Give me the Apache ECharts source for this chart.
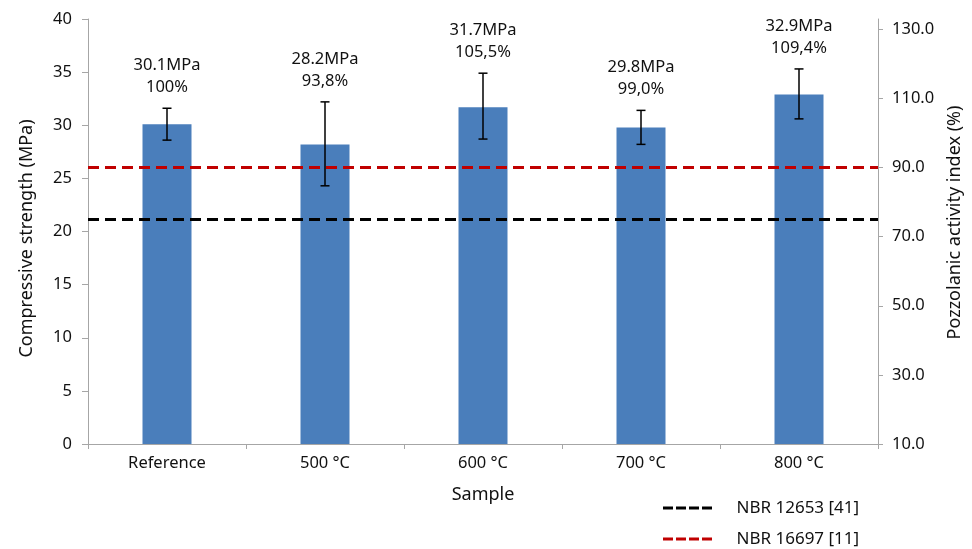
<!DOCTYPE html>
<html>
<head>
<meta charset="utf-8">
<script src="https://cdn.jsdelivr.net/npm/echarts@6/dist/echarts.min.js"></script>
<style>
html,body{margin:0;padding:0;background:#fff;}
#chart{width:972px;height:549px;}
</style>
</head>
<body>
<div id="chart"></div>
<script>
// ---- data ----
const categories = ['Reference', '500 °C', '600 °C', '700 °C', '800 °C'];
const strength = [30.1, 28.2, 31.7, 29.8, 32.9];
const errLow = [28.6, 24.3, 28.7, 28.2, 30.6];
const errHigh = [31.6, 32.2, 34.9, 31.4, 35.3];
const activityIndex = ['100%', '93,8%', '105,5%', '99,0%', '109,4%'];
const refLineNames = ['NBR 12653 [41]', 'NBR 16697 [11]'];
const refLineValues = [75, 90];          // on the pozzolanic activity index axis (%)
const leftMin = 0, leftMax = 40, leftInterval = 5;
const rightTickValues = [10, 30, 50, 70, 90, 110, 130];
const rightMin = 10, rightMax = 133;

const FONT = 'Noto Sans';
const TXT = '#111111';
const AX = '#a6a6a6';
const FS = 16.5;
const FS_NAME = 18;

const chart = echarts.init(document.getElementById('chart'), null, {renderer: 'canvas'});

const dashIcon = 'path://M0,0h10v3h-10z M13,0h10v3h-10z M26,0h10v3h-10z M39,0h10v3h-10z';
const refColors = ['#000000', '#C00000'];

const option = {
  animation: false,
  textStyle: {fontFamily: FONT},
  grid: {left: 88, right: 94, top: 19, bottom: 105},
  legend: {
    orient: 'vertical',
    left: 663,
    top: 498,
    padding: 0,
    itemWidth: 50,
    itemHeight: 3,
    itemGap: 11,
    data: refLineNames.map((n, i) => ({name: n, icon: dashIcon, itemStyle: {color: refColors[i]}})),
    textStyle: {fontFamily: FONT, fontSize: 17, color: TXT, lineHeight: 20, padding: [0, 0, 0, 19]}
  },
  xAxis: {
    type: 'category',
    data: categories,
    name: 'Sample',
    nameLocation: 'middle',
    nameGap: 42,
    nameTextStyle: {fontFamily: FONT, fontSize: FS_NAME, color: TXT},
    axisLine: {lineStyle: {color: AX, width: 1}},
    axisTick: {show: true, length: 5, lineStyle: {color: AX}},
    axisLabel: {fontFamily: FONT, fontSize: FS, color: TXT, margin: 11},
    splitLine: {show: false}
  },
  yAxis: [
    {
      type: 'value',
      min: leftMin, max: leftMax, interval: leftInterval,
      name: 'Compressive strength (MPa)',
      nameLocation: 'middle',
      nameGap: 52,
      nameTextStyle: {fontFamily: FONT, fontSize: FS_NAME, color: TXT, padding: [0, 14, 0, 0]},
      axisLine: {show: true, lineStyle: {color: AX, width: 1}},
      axisTick: {show: true, length: 6, lineStyle: {color: AX}},
      axisLabel: {fontFamily: FONT, fontSize: FS, color: TXT, margin: 16},
      splitLine: {show: false}
    },
    {
      type: 'value',
      position: 'right',
      min: rightMin, max: rightMax,
      name: 'Pozzolanic activity index (%)',
      nameLocation: 'middle',
      nameGap: 68,
      nameRotate: 90,
      nameTextStyle: {fontFamily: FONT, fontSize: FS_NAME, color: TXT, padding: [0, 0, 0, 18]},
      axisLine: {show: true, lineStyle: {color: AX, width: 1}},
      axisTick: {show: true, length: 5, lineStyle: {color: AX}, customValues: rightTickValues},
      axisLabel: {
        fontFamily: FONT, fontSize: FS, color: TXT, margin: 14,
        customValues: rightTickValues,
        formatter: v => v.toFixed(1)
      },
      splitLine: {show: false}
    }
  ],
  series: [
    {
      type: 'bar',
      name: 'Compressive strength',
      data: strength,
      barWidth: 49,
      itemStyle: {color: '#4A7EBB'},
      z: 2
    },
    {
      type: 'custom',
      name: 'err',
      data: categories.map((c, i) => [i, errLow[i], errHigh[i]]),
      encode: {x: 0, y: [1, 2]},
      z: 5,
      silent: true,
      renderItem: function (params, api) {
        const i = params.dataIndex;
        const x = api.value(0);
        const lo = api.coord([x, api.value(1)]);
        const hi = api.coord([x, api.value(2)]);
        const w = 4.5;
        const st = {stroke: '#000', lineWidth: 1.5};
        return {
          type: 'group',
          children: [
            {type: 'line', shape: {x1: lo[0], y1: lo[1], x2: hi[0], y2: hi[1]}, style: st},
            {type: 'line', shape: {x1: lo[0] - w, y1: lo[1], x2: lo[0] + w, y2: lo[1]}, style: st},
            {type: 'line', shape: {x1: hi[0] - w, y1: hi[1], x2: hi[0] + w, y2: hi[1]}, style: st},
            {
              type: 'text',
              x: hi[0],
              y: hi[1] - 10,
              style: {
                text: strength[i].toFixed(1) + 'MPa\n' + activityIndex[i],
                fill: TXT,
                fontFamily: FONT,
                fontSize: FS,
                lineHeight: 22,
                align: 'center',
                verticalAlign: 'bottom'
              }
            }
          ]
        };
      }
    }
  ].concat(refLineNames.map((n, i) => ({
    type: 'line',
    name: n,
    yAxisIndex: 1,
    data: [],
    itemStyle: {color: refColors[i]},
    lineStyle: {color: refColors[i]},
    markLine: {
      silent: true,
      symbol: ['none', 'none'],
      label: {show: false},
      lineStyle: {color: refColors[i], type: [11, 6], width: 3},
      data: [{yAxis: refLineValues[i]}]
    },
    z: 4
  })))
};

chart.setOption(option);
</script>
</body>
</html>
